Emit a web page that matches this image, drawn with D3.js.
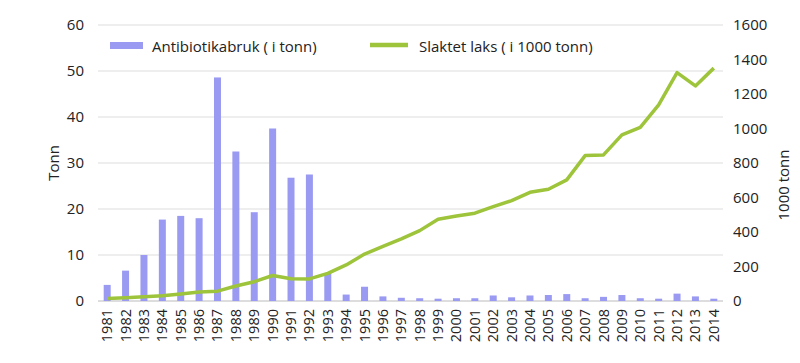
<!DOCTYPE html>
<html lang="no">
<head>
    <meta charset="UTF-8">
    <title>Antibiotikabruk og slaktet laks</title>
    <script src="https://d3js.org/d3.v7.min.js"></script>
    <style>
        body { margin: 0; background: #fff; }
        text { font-family: "Open Sans", "Noto Sans", sans-serif; fill: #222; }
    </style>
</head>
<body>
<svg id="chart"></svg>
<script>
    // years on the x axis
    const years = d3.range(1981, 2015).map(String);
    // antibiotics use, tonnes (left axis)
    const antibiotika = [3.5, 6.6, 10, 17.7, 18.5, 18, 48.6, 32.5, 19.3, 37.5, 26.8, 27.5, 6.1,
        1.4, 3.1, 1.0, 0.7, 0.6, 0.5, 0.6, 0.6, 1.2, 0.8, 1.2, 1.3, 1.5, 0.6, 0.9, 1.3, 0.6, 0.5, 1.6, 1.0, 0.5];
    // slaughtered salmon, 1000 tonnes (right axis)
    const laks = [15, 19, 25, 30, 40, 52, 57, 87, 112, 148, 129, 128, 160,
        209, 272, 316, 360, 408, 474, 493, 509, 547, 582, 630, 648, 702, 843, 847, 963, 1007, 1137, 1324, 1247, 1350];
    const leftTicks = [0, 10, 20, 30, 40, 50, 60];
    const rightTicks = [0, 200, 400, 600, 800, 1000, 1200, 1400, 1600];

    const width = 800, height = 363;
    const m = {left: 98, right: 77, top: 25, bottom: 62};

    const svg = d3.select("#chart").attr("width", width).attr("height", height);

    const x = d3.scaleBand().domain(years).range([m.left, width - m.right]);
    const yL = d3.scaleLinear().domain([0, 60]).range([height - m.bottom, m.top]);
    const yR = d3.scaleLinear().domain([0, 1600]).range([height - m.bottom, m.top]);

    // gridlines
    svg.append("g").selectAll("line")
        .data(leftTicks)
        .join("line")
        .attr("x1", m.left).attr("x2", width - m.right)
        .attr("y1", d => yL(d)).attr("y2", d => yL(d))
        .attr("stroke", d => d === 0 ? "#bbb" : "#ddd")
        .attr("stroke-width", 1);

    // bars
    const barW = 7;
    svg.append("g").selectAll("rect")
        .data(antibiotika)
        .join("rect")
        .attr("x", (d, i) => x(years[i]) + x.bandwidth() / 2 - barW / 2)
        .attr("y", d => yL(d))
        .attr("width", barW)
        .attr("height", d => yL(0) - yL(d))
        .attr("fill", "#9a9af2");

    // line
    const line = d3.line()
        .x((d, i) => x(years[i]) + x.bandwidth() / 2)
        .y(d => yR(d));
    svg.append("path")
        .datum(laks)
        .attr("d", line)
        .attr("fill", "none")
        .attr("stroke", "#9dc43a")
        .attr("stroke-width", 3.5)
        .attr("stroke-linejoin", "round");

    // left axis
    const leftAxis = svg.append("g")
        .attr("transform", `translate(${m.left - 14},0)`)
        .call(d3.axisLeft(yL).tickValues(leftTicks).tickSize(0).tickPadding(0));
    leftAxis.select(".domain").remove();
    leftAxis.selectAll("text").style("font-size", "15px").attr("fill", "#222");

    // right axis
    const rightAxis = svg.append("g")
        .attr("transform", `translate(${width - m.right + 10},0)`)
        .call(d3.axisRight(yR).tickValues(rightTicks).tickFormat(d3.format("d")).tickSize(0).tickPadding(0));
    rightAxis.select(".domain").remove();
    rightAxis.selectAll("text").style("font-size", "15px").attr("fill", "#222");

    // x axis labels
    svg.append("g").selectAll("text")
        .data(years)
        .join("text")
        .attr("transform", d => `translate(${x(d) + x.bandwidth() / 2 + 5},${height - m.bottom + 8}) rotate(-90)`)
        .attr("text-anchor", "end")
        .style("font-size", "14.5px")
        .text(d => d);

    // axis titles
    svg.append("text")
        .attr("transform", `translate(59,${(yL(0) + yL(60)) / 2}) rotate(-90)`)
        .attr("text-anchor", "middle")
        .style("font-size", "15px")
        .text("Tonn");
    svg.append("text")
        .attr("transform", `translate(789,${(yR(0) + yR(1600)) / 2 + 22}) rotate(-90)`)
        .attr("text-anchor", "middle")
        .style("font-size", "15px")
        .text("1000 tonn");

    // legend
    const legend = svg.append("g");
    legend.append("rect")
        .attr("x", 110).attr("y", 42).attr("width", 33).attr("height", 7)
        .attr("fill", "#9a9af2");
    legend.append("text")
        .attr("x", 152).attr("y", 52)
        .style("font-size", "15px")
        .text("Antibiotikabruk ( i tonn)");
    legend.append("line")
        .attr("x1", 370).attr("x2", 408).attr("y1", 45).attr("y2", 45)
        .attr("stroke", "#9dc43a").attr("stroke-width", 4.5);
    legend.append("text")
        .attr("x", 419).attr("y", 52)
        .style("font-size", "15px")
        .text("Slaktet laks ( i 1000 tonn)");
</script>
</body>
</html>
